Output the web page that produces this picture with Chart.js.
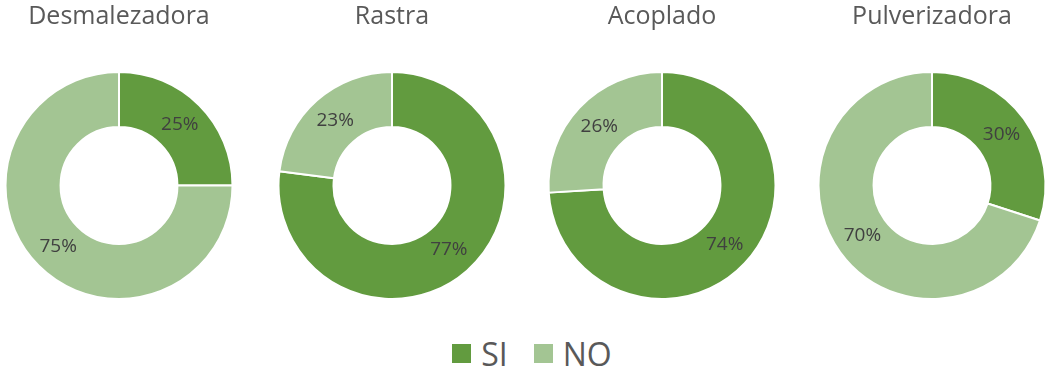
<!DOCTYPE html>
<html>
<head>
<meta charset="utf-8">
<script src="https://cdn.jsdelivr.net/npm/chart.js@4.4.1/dist/chart.umd.min.js"></script>
<style>
  html, body { margin: 0; padding: 0; background: #fff; }
  #wrap { position: relative; width: 1045px; height: 374px; overflow: hidden; }
  .pie { position: absolute; top: 0; width: 260px; height: 300px; }
  #legend {
    position: absolute; top: 332px; left: 0; width: 1064px;
    display: flex; justify-content: center; align-items: center;
    font-family: "Open Sans", sans-serif; font-size: 32px; color: #595959;
  }
  #legend span.item { display: flex; align-items: center; margin: 0 13px; }
  #legend span.box { display: inline-block; width: 19px; height: 19px; margin-right: 10px; }
</style>
</head>
<body>
<div id="wrap">
  <div class="pie" style="left:-11px"><canvas id="c0"></canvas></div>
  <div class="pie" style="left:262px"><canvas id="c1"></canvas></div>
  <div class="pie" style="left:532px"><canvas id="c2"></canvas></div>
  <div class="pie" style="left:802px"><canvas id="c3"></canvas></div>
  <div id="legend"></div>
</div>
<script>
'use strict';

const categories = ['SI', 'NO'];
const machines = ['Desmalezadora', 'Rastra', 'Acoplado', 'Pulverizadora'];
const siValues = [25, 77, 74, 30];
const noValues = [75, 23, 26, 70];
const colors = ['#629B3F', '#A3C593'];

// percentage labels at the middle of each ring segment
const sliceLabels = {
    id: 'sliceLabels',
    afterDatasetsDraw(chart) {
        const ctx = chart.ctx;
        const meta = chart.getDatasetMeta(0);
        const data = chart.data.datasets[0].data;
        ctx.save();
        ctx.font = '19px "Open Sans", sans-serif';
        ctx.fillStyle = '#404040';
        ctx.textAlign = 'center';
        ctx.textBaseline = 'middle';
        meta.data.forEach((arc, i) => {
            const mid = (arc.startAngle + arc.endAngle) / 2;
            const r = (arc.innerRadius + arc.outerRadius) / 2;
            ctx.fillText(data[i] + '%', arc.x + Math.cos(mid) * r, arc.y + Math.sin(mid) * r);
        });
        ctx.restore();
    }
};

machines.forEach((name, i) => {
    new Chart(document.getElementById('c' + i), {
        type: 'doughnut',
        data: {
            labels: categories,
            datasets: [{
                data: [siValues[i], noValues[i]],
                backgroundColor: colors,
                borderColor: '#ffffff',
                borderWidth: 2,
            }],
        },
        options: {
            responsive: true,
            maintainAspectRatio: false,
            animation: false,
            cutout: '51.5%',
            layout: { padding: 0 },
            plugins: {
                legend: { display: false },
                tooltip: { enabled: false },
                title: {
                    display: true,
                    text: name,
                    color: '#595959',
                    font: { family: 'Open Sans', size: 25, weight: 'normal' },
                    padding: { top: 1.5, bottom: 39.5 },
                },
            },
        },
        plugins: [sliceLabels],
    });
});

// shared legend under the four rings
const legend = document.getElementById('legend');
categories.forEach((cat, i) => {
    const item = document.createElement('span');
    item.className = 'item';
    const box = document.createElement('span');
    box.className = 'box';
    box.style.background = colors[i];
    item.appendChild(box);
    item.appendChild(document.createTextNode(cat));
    legend.appendChild(item);
});
</script>
</body>
</html>
